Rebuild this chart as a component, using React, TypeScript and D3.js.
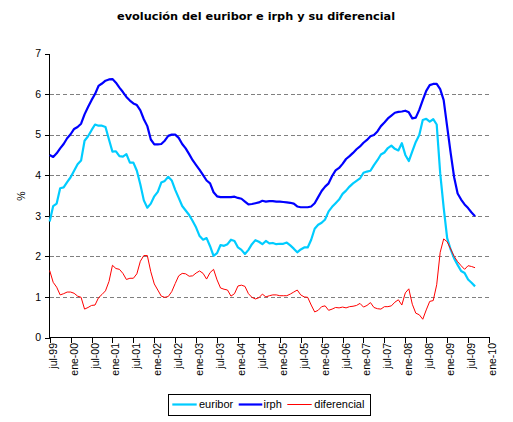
import React from "react";
import * as d3 from "d3";

// Monthly series, jul-99 ... sep-09
const euribor: number[] = [
  2.86, 3.24, 3.30, 3.68, 3.70, 3.83,
  3.95, 4.11, 4.27, 4.36, 4.85, 4.96, 5.11, 5.25, 5.22, 5.22, 5.19, 4.88,
  4.58, 4.59, 4.47, 4.46, 4.52, 4.31, 4.31, 4.11, 3.77, 3.38, 3.20, 3.30,
  3.48, 3.59, 3.82, 3.86, 3.96, 3.87, 3.64, 3.44, 3.24, 3.13, 3.02, 2.87,
  2.71, 2.50, 2.41, 2.45, 2.25, 2.01, 2.08, 2.28, 2.26, 2.30, 2.41, 2.38,
  2.22, 2.16, 2.06, 2.16, 2.30, 2.40, 2.36, 2.30, 2.38, 2.32, 2.33, 2.30,
  2.31, 2.31, 2.34, 2.27, 2.19, 2.10, 2.17, 2.22, 2.22, 2.41, 2.68, 2.78,
  2.83, 2.91, 3.11, 3.22, 3.31, 3.40, 3.54, 3.62, 3.72, 3.80, 3.86, 3.92,
  4.06, 4.09, 4.11, 4.25, 4.37, 4.51, 4.56, 4.67, 4.73, 4.65, 4.61, 4.79,
  4.50, 4.35, 4.59, 4.82, 4.99, 5.36, 5.39, 5.32, 5.38, 5.25, 4.05, 3.20,
  2.45, 2.17, 1.95, 1.79, 1.64, 1.59, 1.43, 1.35, 1.26,
];

const irph: number[] = [
  4.50, 4.45, 4.54, 4.66, 4.77, 4.91,
  5.01, 5.14, 5.19, 5.27, 5.50, 5.68, 5.85, 6.00, 6.20, 6.26, 6.33, 6.36,
  6.37, 6.28, 6.16, 6.05, 5.93, 5.84, 5.77, 5.73, 5.60, 5.38, 5.21, 4.88,
  4.76, 4.76, 4.77, 4.85, 4.97, 5.00, 5.00, 4.92, 4.77, 4.66, 4.52, 4.37,
  4.25, 4.13, 4.00, 3.87, 3.80, 3.58, 3.48, 3.46, 3.46, 3.46, 3.46, 3.47,
  3.44, 3.42, 3.35, 3.28, 3.29, 3.31, 3.33, 3.37, 3.35, 3.36, 3.36, 3.35,
  3.35, 3.34, 3.33, 3.32, 3.30, 3.23, 3.21, 3.21, 3.21, 3.23, 3.31, 3.46,
  3.61, 3.72, 3.80, 3.98, 4.12, 4.18, 4.28, 4.40, 4.47, 4.55, 4.64, 4.71,
  4.80, 4.87, 4.96, 4.99, 5.08, 5.21, 5.30, 5.40, 5.47, 5.54, 5.56, 5.57,
  5.59, 5.55, 5.40, 5.42, 5.61, 5.85, 6.08, 6.22, 6.25, 6.25, 6.12, 5.85,
  5.20, 4.55, 3.95, 3.55, 3.40, 3.28, 3.19, 3.08, 2.99,
];

const diferencial: number[] = [
  1.65, 1.36, 1.24, 1.05, 1.08, 1.12,
  1.12, 1.09, 1.02, 0.99, 0.70, 0.74, 0.79, 0.80, 0.98, 1.06, 1.15, 1.38,
  1.78, 1.70, 1.68, 1.58, 1.43, 1.46, 1.46, 1.57, 1.88, 2.02, 2.02, 1.62,
  1.32, 1.17, 1.02, 0.99, 1.01, 1.13, 1.33, 1.52, 1.58, 1.57, 1.51, 1.52,
  1.59, 1.64, 1.58, 1.44, 1.60, 1.68, 1.42, 1.22, 1.19, 1.17, 1.02, 1.08,
  1.27, 1.29, 1.26, 1.08, 0.99, 0.95, 0.98, 1.07, 1.00, 1.03, 1.05, 1.05,
  1.03, 1.03, 1.03, 1.07, 1.12, 1.17, 1.05, 1.00, 0.99, 0.80, 0.63, 0.67,
  0.76, 0.78, 0.67, 0.70, 0.74, 0.73, 0.75, 0.73, 0.76, 0.77, 0.79, 0.84,
  0.75, 0.79, 0.86, 0.74, 0.71, 0.70, 0.76, 0.76, 0.78, 0.87, 0.93, 0.80,
  1.10, 1.20, 0.82, 0.60, 0.56, 0.45, 0.68, 0.89, 0.91, 1.30, 2.10, 2.43,
  2.36, 2.18, 2.00, 1.87, 1.77, 1.68, 1.77, 1.75, 1.72,
];

const tickLabels: string[] = [
  "jul-99", "ene-00", "jul-00", "ene-01", "jul-01", "ene-02", "jul-02",
  "ene-03", "jul-03", "ene-04", "jul-04", "ene-05", "jul-05", "ene-06",
  "jul-06", "ene-07", "jul-07", "ene-08", "jul-08", "ene-09", "jul-09", "ene-10",
];
const yTicks: number[] = [0, 1, 2, 3, 4, 5, 6, 7];
const seriesNames: string[] = ["euribor", "irph", "diferencial"];
const seriesColors: string[] = ["#00CCFF", "#0000FF", "#FF0000"];

const W = 513;
const H = 422;
const left = 49.5;
const right = 489;
const top = 53.5;
const bottom = 337.5;
const axisFont = "Arial, 'Liberation Sans', sans-serif";

export default function App() {
  const monthsSpan = (tickLabels.length - 1) * 6;
  const x = d3.scaleLinear().domain([0, monthsSpan]).range([left + 0.2, right]);
  const y = d3.scaleLinear().domain([0, 7]).range([bottom, top]);

  const line = d3
    .line<number>()
    .x((_, i) => x(i))
    .y((d) => y(d));

  const series = [euribor, irph, diferencial];
  const widths = [2.2, 2.2, 1];

  return (
    <svg
      width={W}
      height={H}
      style={{ position: "absolute", left: 0, top: 0, background: "#fff" }}
    >
      <text
        x={256}
        y={20}
        textAnchor="middle"
        fontFamily="'DejaVu Sans', Verdana, sans-serif"
        fontWeight="bold"
        fontSize={11.3}
        fill="#000"
      >
        evolución del euribor e irph y su diferencial
      </text>

      {/* gridlines */}
      {yTicks
        .filter((t) => t > 0 && t < 7)
        .map((t) => (
          <line
            key={"g" + t}
            x1={left}
            x2={right}
            y1={Math.round(y(t)) + 0.5}
            y2={Math.round(y(t)) + 0.5}
            stroke="#808080"
            strokeWidth={1}
            strokeDasharray="4,2.7"
            shapeRendering="crispEdges"
          />
        ))}

      {/* y axis */}
      <line x1={left} x2={left} y1={top} y2={bottom} stroke="#000" shapeRendering="crispEdges" />
      {yTicks.map((t) => (
        <g key={"y" + t}>
          <line
            x1={left - 5}
            x2={left}
            y1={Math.round(y(t)) + 0.5}
            y2={Math.round(y(t)) + 0.5}
            stroke="#000"
            shapeRendering="crispEdges"
          />
          <text
            x={41}
            y={y(t)}
            dy="0.36em"
            textAnchor="end"
            fontFamily={axisFont}
            fontSize={10.5}
          >
            {t}
          </text>
        </g>
      ))}
      <text
        transform={`translate(25,196) rotate(-90)`}
        textAnchor="middle"
        fontFamily={axisFont}
        fontSize={10.5}
      >
        %
      </text>

      {/* x axis */}
      <line x1={left} x2={right + 0.5} y1={bottom} y2={bottom} stroke="#000" shapeRendering="crispEdges" />
      {tickLabels.map((lab, i) => {
        const tx = Math.round(x(i * 6)) + 0.5;
        return (
          <g key={"x" + i}>
            <line x1={tx} x2={tx} y1={bottom} y2={bottom + 5} stroke="#000" shapeRendering="crispEdges" />
            <text
              transform={`translate(${tx + 6.5},343) rotate(-90)`}
              textAnchor="end"
              fontFamily={axisFont}
              fontSize={10.5}
            >
              {lab}
            </text>
          </g>
        );
      })}

      {/* series */}
      {series.map((s, i) => (
        <path
          key={seriesNames[i]}
          d={line(s) || ""}
          fill="none"
          stroke={seriesColors[i]}
          strokeWidth={widths[i]}
          strokeLinejoin="round"
        />
      ))}

      {/* legend */}
      <rect x={168.5} y={394.5} width={202} height={21} fill="#fff" stroke="#000" shapeRendering="crispEdges" />
      {(() => {
        const items = [
          { s: 172.3, e: 196.7, t: 199 },
          { s: 238.7, e: 262.3, t: 263.5 },
          { s: 287.3, e: 311.7, t: 314.3 },
        ];
        return items.map((it, i) => (
          <g key={"l" + i}>
            <line
              x1={it.s}
              x2={it.e}
              y1={404.5}
              y2={404.5}
              stroke={seriesColors[i]}
              strokeWidth={widths[i] === 1 ? 1 : 2.2}
            />
            <text
              x={it.t}
              y={404.5}
              dy="0.36em"
              fontFamily={axisFont}
              fontSize={11}
            >
              {seriesNames[i]}
            </text>
          </g>
        ));
      })()}
    </svg>
  );
}
